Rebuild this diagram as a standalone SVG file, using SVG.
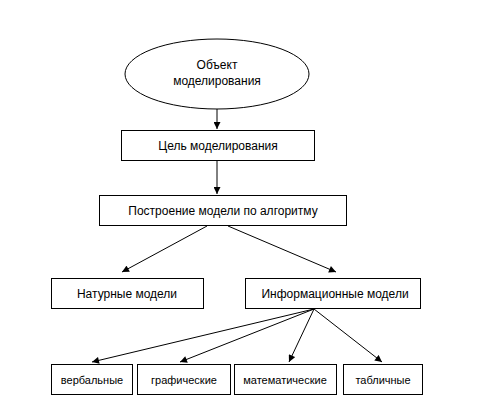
<svg xmlns="http://www.w3.org/2000/svg" width="477" height="409" viewBox="0 0 477 409">
<style>
.n{fill:#fff;stroke:#000;stroke-width:1}
.t{font-family:"Liberation Sans",Arial,sans-serif;font-size:12px;fill:#000;text-anchor:middle;dominant-baseline:central}
.s{font-size:11px}
.c{stroke:#000;stroke-width:1;fill:none;marker-end:url(#ah)}
</style>
<defs>
<marker id="ah" viewBox="0 0 10 10" refX="10" refY="5" markerWidth="8" markerHeight="7" markerUnits="userSpaceOnUse" orient="auto">
<path d="M0,0 L10,5 L0,10 z" fill="#000"/>
</marker>
</defs>
<rect width="477" height="409" fill="#fff"/>
<g id="connectors">
<line class="c" x1="217" y1="109" x2="217" y2="129"/>
<line class="c" x1="217" y1="160" x2="217" y2="194"/>
<line class="c" x1="207" y1="226" x2="122" y2="272"/>
<line class="c" x1="228" y1="226" x2="336" y2="272"/>
<line class="c" x1="314" y1="309" x2="92" y2="362"/>
<line class="c" x1="314" y1="309" x2="180" y2="362"/>
<line class="c" x1="314" y1="309" x2="289" y2="362"/>
<line class="c" x1="314" y1="309" x2="382" y2="362"/>
</g>
<g id="object">
<ellipse class="n" cx="217" cy="74" rx="92" ry="35"/>
<text class="t" x="217" y="65">Объект</text>
<text class="t" x="217" y="81">моделирования</text>
</g>
<g id="goal">
<rect class="n" x="121.5" y="130.5" width="193" height="30"/>
<text class="t" x="218" y="146">Цель моделирования</text>
</g>
<g id="build">
<rect class="n" x="99.5" y="195.5" width="247" height="30"/>
<text class="t" x="223" y="211">Построение модели по алгоритму</text>
</g>
<g id="natural">
<rect class="n" x="51.5" y="278.5" width="152" height="30"/>
<text class="t" x="127" y="294">Натурные модели</text>
</g>
<g id="info">
<rect class="n" x="245.5" y="278.5" width="175" height="30"/>
<text class="t" x="335" y="294">Информационные модели</text>
</g>
<g id="verbal">
<rect class="n" x="51.5" y="364.5" width="81" height="30"/>
<text class="t s" x="92" y="380">вербальные</text>
</g>
<g id="graphic">
<rect class="n" x="137.5" y="364.5" width="93" height="30"/>
<text class="t s" x="184" y="380">графические</text>
</g>
<g id="math">
<rect class="n" x="234.5" y="364.5" width="102" height="30"/>
<text class="t s" x="285" y="380">математические</text>
</g>
<g id="table">
<rect class="n" x="343.5" y="364.5" width="79" height="30"/>
<text class="t s" x="383" y="380">табличные</text>
</g>
</svg>
